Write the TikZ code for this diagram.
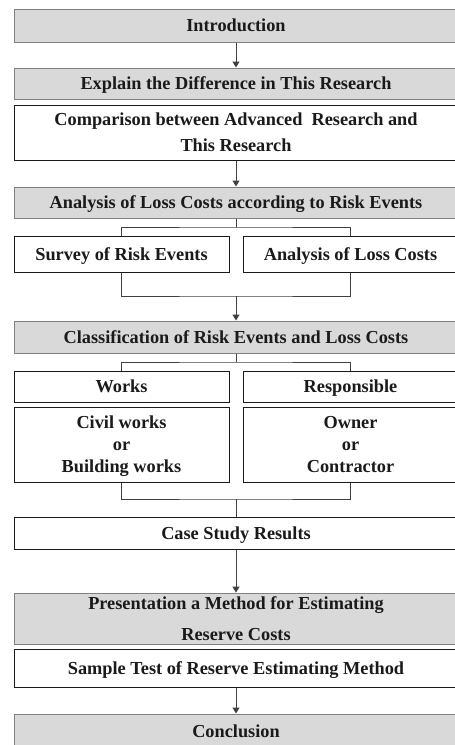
\documentclass[tikz,border=0pt]{standalone}
\usepackage{fontspec}
\setmainfont{Liberation Serif}
\usetikzlibrary{arrows.meta}
\definecolor{boxgray}{HTML}{D9D9D9}
\definecolor{edgegray}{HTML}{808080}
\definecolor{linegray}{HTML}{404040}
\definecolor{txt}{HTML}{1A1A1A}
\newcommand\tst{\rule[-0.24em]{0pt}{1.14em}}
\begin{document}
\begin{tikzpicture}[x=1pt,y=-1pt,
  base/.style={inner sep=0pt, align=center, text=txt, line width=1pt,
    font=\bfseries\fontsize{18.3}{26}\selectfont},
  gbox/.style={base, draw=edgegray, fill=boxgray},
  wbox/.style={base, draw=txt, fill=white},
  full/.style={minimum width=444pt},
  half/.style={minimum width=215pt},
  conn/.style={draw=linegray, line width=1pt},
  arr/.style={conn, -{Triangle[length=6pt,width=7pt]}}]
\clip (0,0) rectangle (455,745);
\useasboundingbox (0,0) rectangle (455,745);
\fill[white] (0,0) rectangle (455,745);
% nodes
\node[gbox, full, minimum height=33pt] (intro) at (236,25.5) {\tst Introduction};
\node[gbox, full, minimum height=31pt] (explain) at (236,83.5) {\tst Explain the Difference in This Research};
\node[wbox, full, minimum height=55pt] (compare) at (236,132.5) {\tst Comparison between Advanced\ \ Research and\\\tst This Research};
\node[gbox, full, minimum height=31pt] (analysis) at (236,202.5) {\tst Analysis of Loss Costs according to Risk Events};
\node[wbox, half, minimum height=36pt] (survey) at (121.5,254) {\tst Survey of Risk Events};
\node[wbox, half, minimum height=36pt] (losscost) at (350.5,254) {\tst Analysis of Loss Costs};
\node[gbox, full, minimum height=32pt] (classif) at (236,337) {\tst Classification of Risk Events and Loss Costs};
\node[wbox, half, minimum height=31pt] (works) at (121.5,386.5) {\tst Works};
\node[wbox, half, minimum height=31pt] (resp) at (350.5,386.5) {\tst Responsible};
\node[wbox, half, minimum height=75pt, font=\bfseries\fontsize{18.3}{22}\selectfont] (civil) at (121.5,444.5) {\tst Civil works\\\tst or\\\tst Building works};
\node[wbox, half, minimum height=75pt, font=\bfseries\fontsize{18.3}{22}\selectfont] (owner) at (350.5,444.5) {\tst Owner\\\tst or\\\tst Contractor};
\node[wbox, full, minimum height=32pt] (case) at (236,533) {\tst Case Study Results};
\node[gbox, full, minimum height=50pt, font=\bfseries\fontsize{18.3}{31}\selectfont] (present) at (236,619) {\tst Presentation a Method for Estimating\\\tst Reserve Costs};
\node[wbox, full, minimum height=38pt] (sample) at (236,668) {\tst Sample Test of Reserve Estimating Method};
\node[gbox, full, minimum height=34pt] (concl) at (236,731) {\tst Conclusion};
% junction points
\coordinate (s1) at (236,227);
\coordinate (j1) at (236,296);
\coordinate (s2) at (236,362);
\coordinate (j2) at (236,499);
% connectors
\draw[arr] (intro.south) -- (explain.north);
\draw[arr] (compare.south) -- (analysis.north);
\draw[conn] (analysis.south) -- (s1);
\draw[conn] (survey.north) |- (s1) -| (losscost.north);
\draw[conn] (survey.south) |- (j1) -| (losscost.south);
\draw[arr] (j1) -- (classif.north);
\draw[conn] (classif.south) -- (s2);
\draw[conn] (works.north) |- (s2) -| (resp.north);
\draw[conn] (civil.south) |- (j2) -| (owner.south);
\draw[conn] (j2) -- (case.north);
\draw[arr] (case.south) -- (present.north);
\draw[arr] (sample.south) -- (concl.north);
\end{tikzpicture}
\end{document}
